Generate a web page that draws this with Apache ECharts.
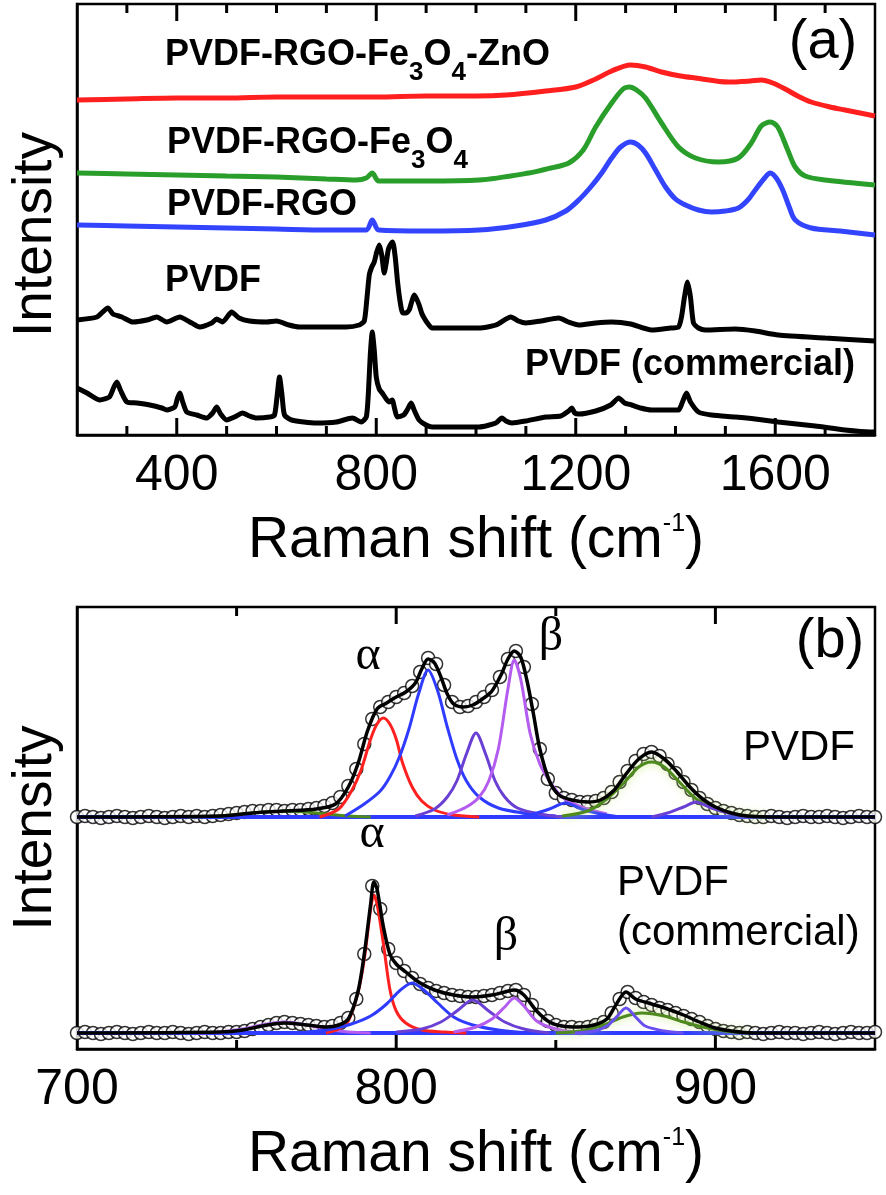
<!DOCTYPE html>
<html><head><meta charset="utf-8">
<script src="https://cdn.jsdelivr.net/npm/echarts@6/dist/echarts.min.js"></script>
<style>html,body{margin:0;padding:0;background:#fff}#c{width:886px;height:1195px}</style>
</head><body><div id="c"></div>
<script>
// ---------- Panel (a) data: Raman shift (cm-1) vs intensity (offset, arb. units) ----------
const aTickLabels = [400, 800, 1200, 1600];
const aMinorTicks = [300, 500, 600, 700, 900, 1000, 1100, 1300, 1400, 1500, 1700];
const aRedZnO = [[200,335],[300,336],[400,337],[500,337],[600,338],[700,338],[800,338],[900,339],[1000,339],[1060,340],[1140,344],[1200,348],[1240,356],[1272,364],[1310,370],[1340,368],[1372,363],[1410,359],[1440,357],[1506,353],[1550,354],[1572,355],[1595,352],[1620,346],[1645,339],[1672,333],[1710,328],[1740,325],[1790,320],[1800,319]];
const aGreenFe = [[200,262],[300,261],[400,260],[500,259],[600,258],[700,256],[760,255],[780,257],[792,262],[805,254],[900,254],[1006,255],[1106,262],[1150,267],[1186,272],[1215,285],[1240,308],[1272,332],[1295,346],[1308,348],[1322,345],[1340,337],[1372,312],[1406,288],[1440,277],[1486,273],[1526,277],[1552,292],[1572,309],[1590,313],[1605,308],[1625,285],[1640,268],[1660,259],[1700,255],[1800,250]];
const aBlueRGO = [[200,210],[300,209],[400,208],[500,207],[600,206],[700,205],[780,205],[792,215],[805,205],[900,204],[1006,205],[1080,209],[1140,215],[1180,224],[1206,235],[1230,248],[1252,262],[1272,277],[1290,288],[1310,293],[1325,290],[1340,282],[1360,265],[1380,248],[1400,236],[1420,230],[1446,225],[1472,223],[1500,224],[1526,227],[1545,235],[1560,245],[1577,256],[1590,262],[1602,257],[1615,245],[1628,228],[1640,215],[1672,207],[1730,204],[1800,200]];
const aPVDF = [[200,115],[240,118],[262,127],[272,121],[290,118],[312,113],[340,115],[360,118],[380,113],[406,118],[430,112],[446,108],[470,112],[480,116],[492,113],[510,123],[525,117],[546,114],[580,113],[600,114],[625,110],[646,108],[680,108],[712,108],[740,108],[766,110],[776,114],[781,135],[786,160],[791,168],[796,173],[801,183],[806,190],[811,180],[816,162],[820,172],[824,185],[828,190],[833,193],[838,178],[843,152],[848,133],[853,122],[860,122],[866,125],[871,133],[876,140],[881,136],[886,130],[891,122],[896,117],[904,111],[912,107],[950,107],[1006,107],[1040,110],[1070,118],[1085,114],[1100,112],[1130,114],[1166,117],[1185,113],[1206,110],[1240,112],[1272,113],[1310,111],[1352,105],[1390,107],[1406,108],[1412,118],[1418,138],[1424,153],[1430,138],[1436,112],[1446,107],[1460,105],[1520,106],[1560,104],[1606,100],[1700,97],[1800,94]];
const aPVDFcom = [[200,47],[220,42],[246,35],[265,38],[274,48],[280,53],[287,45],[300,33],[320,32],[346,30],[370,27],[380,25],[396,28],[401,36],[406,42],[412,33],[420,23],[440,20],[460,17],[472,22],[480,28],[488,21],[500,15],[516,18],[532,22],[546,19],[560,17],[586,18],[596,20],[601,38],[606,58],[611,40],[616,20],[630,15],[680,12],[720,13],[752,17],[770,13],[780,18],[784,40],[788,80],[792,103],[796,85],[800,58],[806,46],[812,42],[820,36],[826,33],[832,35],[837,26],[842,18],[855,20],[862,25],[870,32],[876,25],[886,15],[900,10],[912,8],[950,8],[1006,8],[1040,12],[1052,17],[1060,14],[1072,12],[1100,14],[1140,18],[1170,19],[1186,24],[1192,27],[1198,22],[1206,21],[1240,24],[1270,30],[1286,37],[1298,32],[1312,30],[1330,27],[1352,25],[1380,25],[1406,25],[1414,33],[1422,42],[1430,33],[1446,23],[1472,20],[1520,18],[1560,16],[1606,13],[1680,9],[1740,5],[1790,3],[1800,3]];

// ---------- Panel (b) data ----------
const bTickLabels = [700, 800, 900];
const bMajorTicks = [800, 900];
const bMinorTicks = [750, 850];
const bCircleX = [700,702.5,705,707.5,710,712.5,715,717.5,720,722.5,725,727.5,730,732.5,735,737.5,740,742.5,745,747.5,750,752.5,755,757.5,760,762.5,765,767.5,770,772.5,775,777.5,780,782.5,785,787.5,790,792.5,795,797.5,800,802.5,805,807.5,810,812.5,815,817.5,820,822.5,825,827.5,830,832.5,835,837.5,840,842.5,845,847.5,850,852.5,855,857.5,860,862.5,865,867.5,870,872.5,875,877.5,880,882.5,885,887.5,890,892.5,895,897.5,900,902.5,905,907.5,910,912.5,915,917.5,920,922.5,925,927.5,930,932.5,935,937.5,940,942.5,945,947.5,950];
const bCircleUp = [232,233,232,231,232,233,232,231,232,233,232,231,232,233,232,233,232,233,234,235,236,237,238,238,239,239,238,239,239,240,241,243,246,252,263,280,305,330,342,347,352,356,363,377,391,385,364,347,342,343,347,352,359,372,390,398,382,345,300,270,256,251,249,247,247,248,251,257,267,278,288,295,297,293,285,276,267,259,251,245,241,238,236,234,233,232,232,233,232,231,232,233,232,232,233,232,231,232,233,232,232];
const bCircleLow = [16,17,16,15,16,17,16,15,16,17,16,16,17,16,15,16,17,16,16,17,17,18,20,22,24,26,27,26,25,24,23,22,23,26,31,50,95,163,140,100,86,78,71,65,61,58,56,54,53,52,52,53,54,56,58,59,54,44,34,28,24,22,22,21,22,24,27,36,50,57,51,47,44,41,39,36,33,30,27,23,20,18,17,16,17,16,15,16,17,16,16,15,16,17,16,15,16,17,16,16,17];
const bFitUp = [[700,232],[745,233],[755,236],[765,238],[775,240],[781,245],[785,262],[788,285],[791,318],[794,340],[797,346],[800,352],[803,357],[806,366],[808,380],[810,390],[812,386],[814,372],[816,355],[818,345],[821,342],[824,344],[827,350],[830,358],[833,375],[835,390],[837,398],[839,392],[841,368],[843,335],[845,300],[848,268],[851,254],[855,249],[860,247],[864,249],[868,258],[872,275],[876,290],[880,297],[884,290],[888,277],[892,262],[896,250],[900,242],[905,236],[910,233],[920,232],[950,232]];
const bBaseUp = [[700,232],[950,232]];
const bRedUp = [[776,232],[782,240],[786,258],[789,279],[792,310],[794,325],[796,331],[798,325],[800,310],[802,286],[805,262],[808,248],[812,239],[818,234],[826,232]];
const bBlueUp = [[784,233],[790,245],[795,258],[798,272],[801,292],[804,320],[807,355],[810,379],[813,358],[816,322],[819,290],[822,268],[826,252],[832,241],[840,236],[850,233]];
const bVioletUp = [[806,233],[812,240],[816,252],[819,268],[822,295],[825,316],[828,295],[831,268],[834,252],[838,241],[845,235],[852,232]];
const bPurpleUp = [[816,234],[822,242],[826,252],[829,268],[832,300],[835,360],[837,389],[839,370],[842,315],[845,285],[848,268],[852,252],[858,242],[866,235]];
const bBlueSmallUp = [[838,232],[843,235],[848,240],[853,246],[858,240],[864,235],[870,232]];
const bGreenUp = [[852,233],[860,238],[866,250],[871,265],[876,282],[880,287],[884,282],[889,266],[894,250],[900,240],[908,234],[916,232]];
const bPurpleSmallUp = [[880,232],[885,236],[890,242],[894,247],[898,242],[904,236],[910,232]];
const bGreenSmallUp = [[735,232],[745,233],[755,236],[765,238],[775,236],[785,233],[792,232]];
const bFitLow = [[700,16],[745,17],[752,19],[758,23],[765,26],[772,24],[778,22],[782,24],[785,30],[788,57],[790,95],[792,145],[793,167],[794,160],[796,122],[798,95],[800,85],[803,77],[807,67],[812,59],[818,54],[824,52],[830,54],[834,57],[837,59],[840,54],[844,38],[848,27],[852,23],[857,22],[862,24],[866,30],[869,45],[872,57],[875,50],[880,45],[885,40],[890,34],[895,27],[900,21],[905,18],[912,16],[950,16]];
const bBaseLow = [[700,16],[950,16]];
const bRedLow = [[778,16],[782,20],[785,28],[788,56],[790,90],[792,140],[793,154],[794,145],[796,105],[798,60],[800,38],[803,26],[808,19],[815,17],[822,16]];
const bBlueLow = [[772,17],[780,20],[786,25],[792,33],[797,45],[801,58],[805,66],[809,58],[813,46],[818,32],[824,24],[832,19],[842,16]];
const bVioletLow = [[800,17],[808,20],[814,27],[819,38],[824,49],[829,38],[834,27],[840,20],[848,16]];
const bPurpleLow = [[818,17],[825,22],[830,30],[834,42],[837,51],[840,43],[844,28],[850,20],[858,16]];
const bBlueVioletLow = [[856,16],[862,18],[866,23],[869,32],[872,41],[875,32],[878,23],[884,18],[890,16]];
const bGreenLow = [[850,16],[858,18],[865,24],[871,32],[877,36],[884,33],[890,27],[896,22],[903,18],[910,16]];
const bPurpleSmallLow = [[738,16],[745,17],[752,20],[758,24],[765,27],[772,24],[778,20],[785,17],[792,16]];

// ---------- styling ----------
const FONT = 'Liberation Sans, Arial, Helvetica, sans-serif';
const SERIF = 'Liberation Serif, DejaVu Serif, Times New Roman, serif';
const BLACK = '#000';
const A_YMAX = 431, B_YMAX = 442;

function xAxis(grid, min, max, step, labels) {
  return {type: 'value', gridIndex: grid, min: min, max: max, interval: step, position: 'bottom',
    splitLine: {show: false},
    axisLine: {show: true, onZero: false, lineStyle: {color: BLACK, width: 2.5}},
    axisTick: {show: false},
    axisLabel: {show: true, customValues: labels, formatter: v => String(v),
      fontSize: 50, fontFamily: FONT, color: BLACK, margin: 16},
    name: '{m|Raman shift (cm}{s|-1}{m|)}', nameLocation: 'middle', nameGap: 74,
    nameTextStyle: {rich: {
      m: {fontSize: 57, fontFamily: FONT, color: BLACK, lineHeight: 64, verticalAlign: 'middle'},
      s: {fontSize: 25, fontFamily: FONT, color: BLACK, lineHeight: 20, verticalAlign: 'middle', padding: [0, 0, 33, 0]}
    }}};
}
function yAxis(grid, max, pad) {
  return {type: 'value', gridIndex: grid, min: 0, max: max,
    axisLine: {show: true, onZero: false, lineStyle: {color: BLACK, width: 2.5}},
    axisTick: {show: false}, axisLabel: {show: false}, splitLine: {show: false},
    name: 'Intensity', nameLocation: 'middle', nameGap: 14,
    nameTextStyle: {fontSize: 55, fontFamily: FONT, color: BLACK, padding: pad}};
}
// inward tick marks on the frame (bottom: dir -1 at y=0, top: dir +1 at y=max), placed through the axis scale
function ticks(values, len, xi, yi, yEdge, dir) {
  return {type: 'custom', xAxisIndex: xi, yAxisIndex: yi,
    data: values.map(v => [v, yEdge]),
    renderItem: function (params, api) {
      const p = api.coord([api.value(0), api.value(1)]);
      return {type: 'line', shape: {x1: p[0], y1: p[1], x2: p[0], y2: p[1] + dir * len},
        style: {stroke: BLACK, lineWidth: 3}};
    }};
}
function line(name, data, color, width, xi, yi, z, extra) {
  return Object.assign({type: 'line', name: name, data: data, xAxisIndex: xi, yAxisIndex: yi,
    showSymbol: false, symbol: 'none', smooth: 0.3, z: z, animation: false,
    lineStyle: {color: color, width: width}}, extra || {});
}
function circles(name, xs, ys, xi, yi) {
  return {type: 'scatter', name: name, data: xs.map((x, i) => [x, ys[i]]), xAxisIndex: xi, yAxisIndex: yi,
    symbol: 'circle', symbolSize: 13, z: 2, animation: false,
    itemStyle: {color: '#fff', borderColor: BLACK, borderWidth: 1.5}};
}
const boldRich = {
  b: {fontSize: 36, fontWeight: 'bold', fontFamily: FONT, fill: BLACK, lineHeight: 40, verticalAlign: 'middle'},
  s: {fontSize: 26, fontWeight: 'bold', fontFamily: FONT, fill: BLACK, lineHeight: 20, verticalAlign: 'middle', padding: [34, 0, 0, 0]}
};
function gText(x, y, text, opts) {
  return {type: 'text', x: x, y: y, z: 100, silent: true,
    style: Object.assign({text: text, fill: BLACK, align: 'left', verticalAlign: 'middle'}, opts)};
}

const RED = '#ff1f1f', GREEN = '#2a9e2a', BLUE = '#3344ff';
const C_RED = '#ff2020', C_BLUE = '#2f3cff', C_VIOLET = '#6a3fd4', C_PURPLE = '#b45cf0', C_GREEN = '#4f8a1e', C_BV = '#6a4ff0';
const greenGlow = {color: C_GREEN, width: 3, shadowColor: 'rgba(190,230,110,0.9)', shadowBlur: 8};

const option = {
  backgroundColor: '#fff',
  animation: false,
  grid: [
    {left: 77, right: 11, top: 4, height: 431, show: true, borderColor: BLACK, borderWidth: 2.5, containLabel: false},
    {left: 77, right: 11, top: 607, height: 442, show: true, borderColor: BLACK, borderWidth: 2.5, containLabel: false}
  ],
  xAxis: [xAxis(0, 200, 1800, 100, aTickLabels), xAxis(1, 700, 950, 50, bTickLabels)],
  yAxis: [yAxis(0, A_YMAX, [0, 30, 0, 0]), yAxis(1, B_YMAX, [0, 0, 0, 0])],
  series: [
    line('PVDF-RGO-Fe3O4-ZnO', aRedZnO, RED, 5, 0, 0, 5),
    line('PVDF-RGO-Fe3O4', aGreenFe, GREEN, 5, 0, 0, 5),
    line('PVDF-RGO', aBlueRGO, BLUE, 5, 0, 0, 5),
    line('PVDF', aPVDF, BLACK, 5, 0, 0, 5, {smooth: 0.2}),
    line('PVDF (commercial)', aPVDFcom, BLACK, 5, 0, 0, 5, {smooth: 0.2}),

    circles('PVDF data', bCircleX, bCircleUp, 1, 1),
    circles('PVDF (commercial) data', bCircleX, bCircleLow, 1, 1),
    line('base up', bBaseUp, C_BLUE, 4, 1, 1, 6, {smooth: false}),
    line('base low', bBaseLow, C_BLUE, 4, 1, 1, 6, {smooth: false}),
    line('green small up', bGreenSmallUp, C_GREEN, 3, 1, 1, 7),
    line('red up', bRedUp, C_RED, 3, 1, 1, 7),
    line('blue up', bBlueUp, C_BLUE, 3, 1, 1, 7),
    line('violet up', bVioletUp, C_VIOLET, 3, 1, 1, 7),
    line('purple up', bPurpleUp, C_PURPLE, 3, 1, 1, 7),
    line('blue small up', bBlueSmallUp, C_BLUE, 3, 1, 1, 7),
    line('green up', bGreenUp, C_GREEN, 3, 1, 1, 7, {lineStyle: greenGlow}),
    line('purple small up', bPurpleSmallUp, C_VIOLET, 3, 1, 1, 7),
    line('fit up', bFitUp, BLACK, 3.5, 1, 1, 9),
    line('purple small low', bPurpleSmallLow, C_PURPLE, 3, 1, 1, 7),
    line('red low', bRedLow, C_RED, 3, 1, 1, 7),
    line('blue low', bBlueLow, C_BLUE, 3, 1, 1, 7),
    line('violet low', bVioletLow, C_VIOLET, 3, 1, 1, 7),
    line('purple low', bPurpleLow, C_PURPLE, 3, 1, 1, 7),
    line('green low', bGreenLow, C_GREEN, 3, 1, 1, 7, {lineStyle: greenGlow}),
    line('blue-violet low', bBlueVioletLow, C_BV, 3, 1, 1, 7),
    line('fit low', bFitLow, BLACK, 3.5, 1, 1, 9),

    ticks(aMinorTicks, 9, 0, 0, 0, -1),
    ticks(aMinorTicks, 9, 0, 0, A_YMAX, 1),
    ticks(aTickLabels, 17, 0, 0, 0, -1),
    ticks(aTickLabels, 17, 0, 0, A_YMAX, 1),
    ticks(bMinorTicks, 9, 1, 1, 0, -1),
    ticks(bMinorTicks, 9, 1, 1, B_YMAX, 1),
    ticks(bMajorTicks, 17, 1, 1, 0, -1),
    ticks(bMajorTicks, 17, 1, 1, B_YMAX, 1)
  ],
  graphic: [
    gText(165, 55.5, '{b|PVDF-RGO-Fe}{s|3}{b|O}{s|4}{b|-ZnO}', {rich: boldRich}),
    gText(167, 143.5, '{b|PVDF-RGO-Fe}{s|3}{b|O}{s|4}', {rich: boldRich}),
    gText(167, 205, '{b|PVDF-RGO}', {rich: boldRich}),
    gText(165, 281.5, '{b|PVDF}', {rich: boldRich}),
    gText(525, 365, '{b|PVDF (commercial)}', {rich: boldRich}),
    gText(823, 43, '(a)', {font: '56px ' + FONT, align: 'center'}),
    gText(830, 642, '(b)', {font: '56px ' + FONT, align: 'center'}),
    gText(368, 656, 'α', {font: '48px ' + SERIF, align: 'center'}),
    gText(551, 637, 'β', {font: '48px ' + SERIF, align: 'center'}),
    gText(372, 834, 'α', {font: '48px ' + SERIF, align: 'center'}),
    gText(506, 937, 'β', {font: '48px ' + SERIF, align: 'center'}),
    gText(743, 748, 'PVDF', {font: '42px ' + FONT}),
    gText(617, 883.5, 'PVDF', {font: '42px ' + FONT}),
    gText(617, 933, '(commercial)', {font: '42px ' + FONT})
  ]
};
const chart = echarts.init(document.getElementById('c'), null, {renderer: 'canvas'});
chart.setOption(option);
</script></body></html>
